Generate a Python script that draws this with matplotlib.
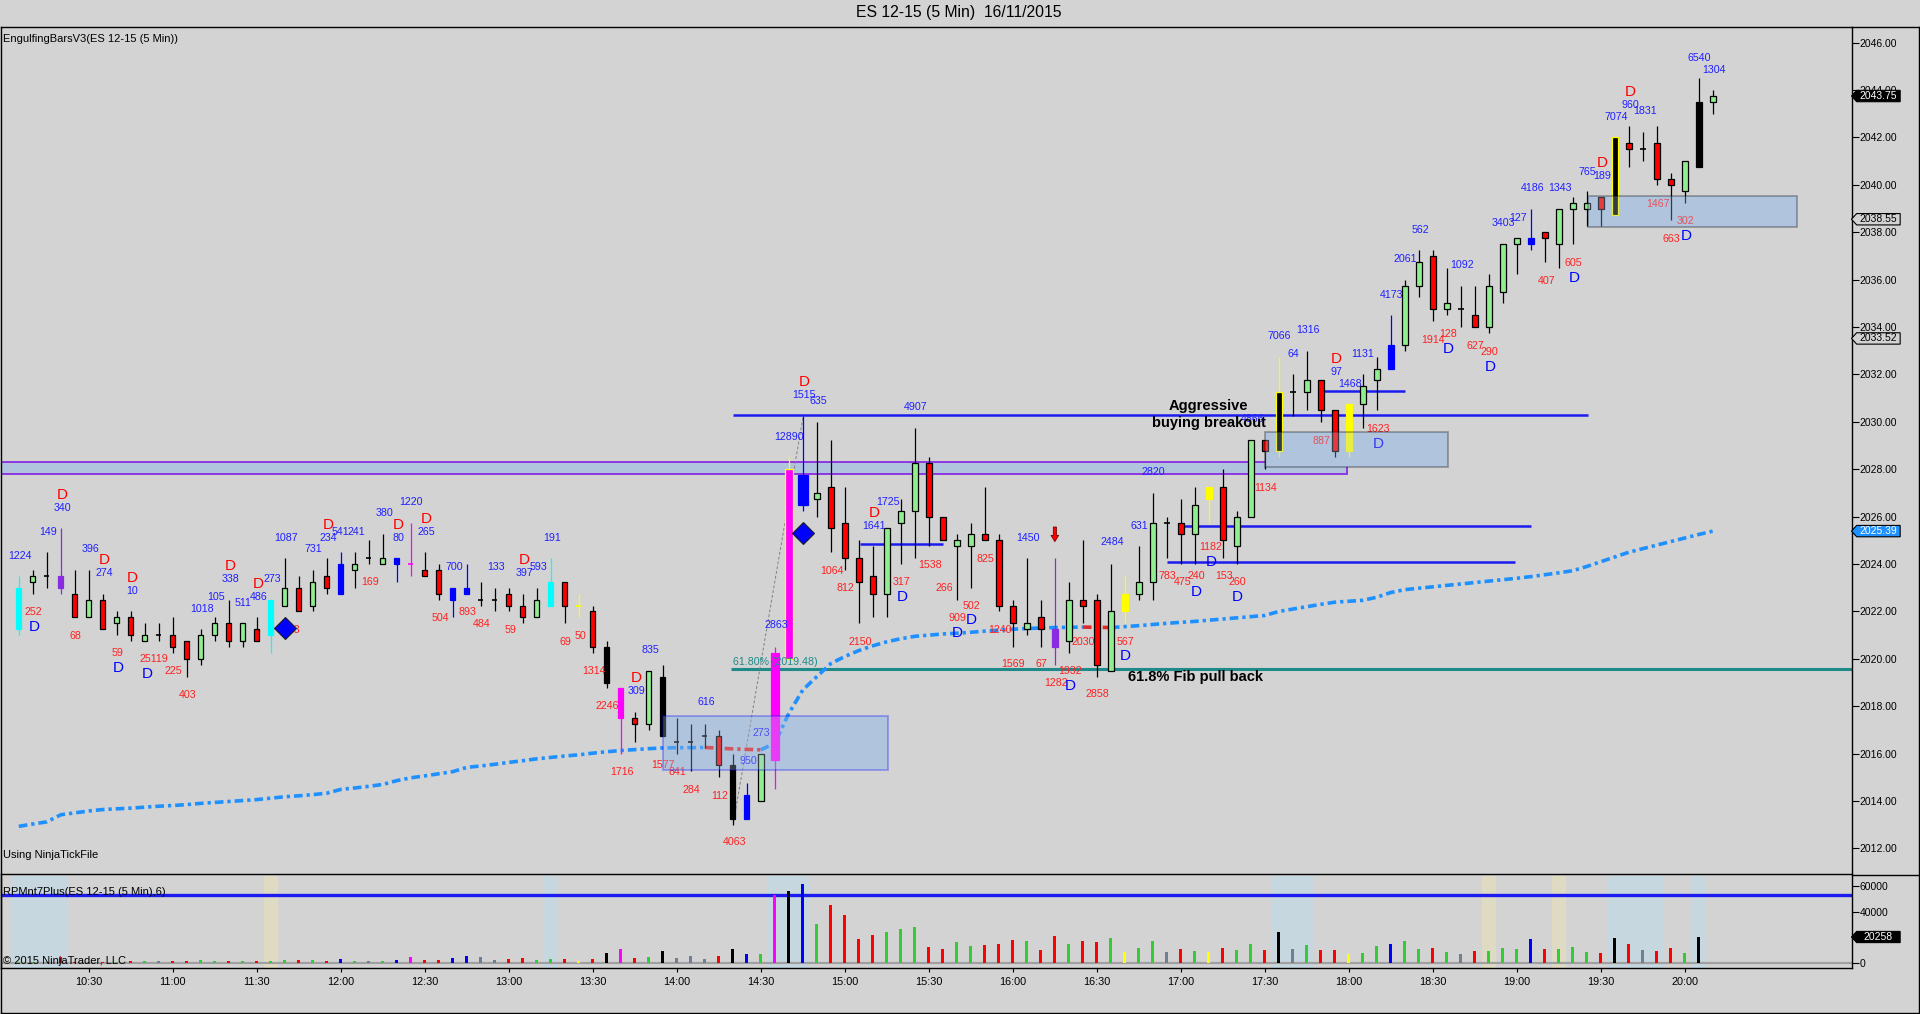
import numpy as np
import matplotlib
matplotlib.use("Agg")
import matplotlib.pyplot as plt
from matplotlib.patches import Rectangle, Polygon
from matplotlib.lines import Line2D
from matplotlib.ticker import FormatStrFormatter
from matplotlib.transforms import blended_transform_factory

plt.rcParams['font.family'] = ['Liberation Sans', 'DejaVu Sans']

# ---- data (ES 12-15, 5 min bars from 10:05) ----
first_bar = '10:05'
opens = [2021.25, 2023.25, 2023.5, 2023.5, 2022.75, 2021.75, 2022.5, 2021.5, 2021.75, 2020.75,
         2021.0, 2021.0, 2020.75, 2020.0, 2021.0, 2021.5, 2020.75, 2021.25, 2021.0, 2022.25,
         2023.0, 2022.25, 2023.5, 2022.75, 2023.75, 2024.25, 2024.0, 2024.25, 2024.0, 2023.75,
         2023.75, 2023.0, 2022.75, 2022.5, 2022.5, 2022.75, 2022.25, 2021.75, 2022.25, 2023.25,
         2022.25, 2022.0, 2020.5, 2018.75, 2017.5, 2017.25, 2019.25, 2016.5, 2016.5, 2016.75,
         2016.75, 2015.5, 2013.25, 2014.0, 2015.75, 2020.0, 2027.75, 2026.75, 2027.25, 2025.75,
         2024.25, 2023.5, 2022.75, 2025.75, 2026.25, 2028.25, 2026.0, 2024.75, 2024.75, 2025.25,
         2025.0, 2022.25, 2021.25, 2021.75, 2021.25, 2020.75, 2022.5, 2022.5, 2019.5, 2022.0,
         2022.75, 2023.25, 2025.75, 2025.75, 2025.25, 2026.75, 2027.25, 2024.75, 2026.0, 2029.25,
         2028.75, 2031.25, 2031.25, 2031.75, 2030.5, 2028.75, 2030.75, 2031.75, 2032.25, 2033.25,
         2035.75, 2037.0, 2034.75, 2034.75, 2034.5, 2034.0, 2035.5, 2037.5, 2037.5, 2038.0,
         2037.5, 2039.0, 2039.0, 2039.5, 2038.75, 2041.75, 2041.5, 2041.75, 2040.25, 2039.75,
         2040.75, 2043.5]
highs = [2023.5, 2023.75, 2024.5, 2025.5, 2023.75, 2023.75, 2022.75, 2022.0, 2022.0, 2021.5,
         2021.5, 2021.75, 2020.75, 2021.25, 2021.75, 2022.5, 2021.5, 2021.75, 2022.5, 2024.25,
         2023.5, 2023.75, 2024.25, 2024.5, 2024.5, 2025.0, 2025.25, 2024.25, 2025.75, 2024.5,
         2024.0, 2023.0, 2024.0, 2023.25, 2023.0, 2023.0, 2022.75, 2023.0, 2024.25, 2023.25,
         2022.75, 2022.25, 2020.75, 2018.75, 2017.75, 2019.5, 2019.75, 2017.5, 2017.25, 2017.25,
         2017.0, 2016.0, 2014.75, 2016.0, 2020.5, 2028.5, 2030.25, 2030.0, 2029.25, 2027.25,
         2025.0, 2024.75, 2025.5, 2026.75, 2029.75, 2028.5, 2026.0, 2025.25, 2025.75, 2027.25,
         2025.25, 2022.5, 2024.25, 2022.5, 2024.25, 2023.25, 2025.0, 2022.75, 2024.0, 2023.5,
         2024.75, 2027.0, 2026.0, 2026.75, 2027.25, 2027.25, 2028.0, 2026.25, 2029.25, 2029.25,
         2032.75, 2032.0, 2033.0, 2031.75, 2030.5, 2030.75, 2032.0, 2032.75, 2034.5, 2036.0,
         2037.25, 2037.25, 2036.5, 2035.75, 2035.75, 2036.25, 2037.5, 2037.75, 2039.0, 2038.0,
         2039.0, 2039.5, 2039.75, 2039.5, 2042.0, 2042.5, 2042.25, 2042.5, 2040.5, 2041.0,
         2044.5, 2044.0]
lows = [2021.0, 2022.75, 2023.0, 2022.75, 2021.75, 2021.75, 2021.25, 2021.0, 2020.75, 2020.75,
        2020.75, 2020.25, 2019.25, 2019.75, 2020.75, 2020.5, 2020.5, 2020.75, 2020.25, 2022.25,
        2022.0, 2022.0, 2022.75, 2022.75, 2023.0, 2024.0, 2024.0, 2023.25, 2023.5, 2023.5,
        2022.5, 2021.75, 2022.75, 2022.25, 2022.0, 2022.0, 2021.5, 2021.75, 2022.25, 2021.5,
        2021.75, 2020.25, 2018.75, 2016.0, 2016.5, 2017.0, 2016.75, 2016.0, 2015.25, 2016.25,
        2015.0, 2013.0, 2013.25, 2014.0, 2014.5, 2020.0, 2026.25, 2026.0, 2024.5, 2023.75,
        2021.5, 2021.75, 2021.75, 2024.0, 2024.25, 2024.75, 2025.0, 2022.5, 2023.0, 2025.0,
        2022.0, 2020.5, 2021.0, 2020.5, 2019.75, 2020.25, 2021.5, 2019.25, 2019.5, 2021.5,
        2022.5, 2022.5, 2024.25, 2024.0, 2024.0, 2025.75, 2024.25, 2024.0, 2026.0, 2028.0,
        2028.5, 2030.25, 2030.5, 2030.0, 2028.5, 2028.5, 2029.75, 2030.5, 2032.25, 2033.0,
        2035.25, 2034.25, 2034.5, 2034.0, 2034.0, 2033.75, 2035.0, 2036.25, 2037.25, 2036.75,
        2036.5, 2037.5, 2038.25, 2038.25, 2038.75, 2040.75, 2041.0, 2040.0, 2038.5, 2039.25,
        2040.75, 2043.0]
closes = [2023.0, 2023.5, 2023.5, 2023.0, 2021.75, 2022.5, 2021.25, 2021.75, 2021.0, 2021.0,
          2021.0, 2020.5, 2020.0, 2021.0, 2021.5, 2020.75, 2021.5, 2020.75, 2022.5, 2023.0,
          2022.0, 2023.25, 2023.0, 2024.0, 2024.0, 2024.25, 2024.25, 2024.0, 2024.0, 2023.5,
          2022.75, 2022.5, 2023.0, 2022.5, 2022.5, 2022.25, 2021.75, 2022.5, 2023.25, 2022.25,
          2022.25, 2020.5, 2019.0, 2017.5, 2017.25, 2019.5, 2016.75, 2016.5, 2016.5, 2016.75,
          2015.5, 2013.25, 2014.25, 2016.0, 2020.25, 2028.0, 2026.5, 2027.0, 2025.5, 2024.25,
          2023.25, 2022.75, 2025.5, 2026.25, 2028.25, 2026.0, 2025.0, 2025.0, 2025.25, 2025.0,
          2022.25, 2021.5, 2021.5, 2021.25, 2020.5, 2022.5, 2022.25, 2019.75, 2022.0, 2022.75,
          2023.25, 2025.75, 2025.75, 2025.25, 2026.5, 2027.25, 2025.0, 2026.0, 2029.25, 2028.75,
          2031.25, 2031.25, 2031.75, 2030.5, 2028.75, 2030.75, 2031.5, 2032.25, 2033.25, 2035.75,
          2036.75, 2034.75, 2035.0, 2034.75, 2034.0, 2035.75, 2037.5, 2037.75, 2037.75, 2037.75,
          2039.0, 2039.25, 2039.25, 2039.0, 2042.0, 2041.5, 2041.5, 2040.25, 2040.0, 2041.0,
          2043.5, 2043.75]
moving_avg = [2012.93, 2013.03, 2013.12, 2013.42, 2013.50, 2013.58, 2013.64, 2013.67, 2013.70, 2013.74,
              2013.78, 2013.81, 2013.85, 2013.90, 2013.94, 2013.98, 2014.02, 2014.06, 2014.12, 2014.18,
              2014.22, 2014.27, 2014.33, 2014.49, 2014.55, 2014.62, 2014.70, 2014.86, 2014.98, 2015.06,
              2015.15, 2015.24, 2015.42, 2015.48, 2015.55, 2015.63, 2015.70, 2015.78, 2015.84, 2015.90,
              2015.95, 2016.02, 2016.08, 2016.13, 2016.17, 2016.21, 2016.24, 2016.25, 2016.25, 2016.26,
              2016.23, 2016.20, 2016.18, 2016.16, 2016.44, 2017.70, 2018.69, 2019.25, 2019.80, 2020.10,
              2020.35, 2020.55, 2020.72, 2020.85, 2020.95, 2021.00, 2021.05, 2021.08, 2021.12, 2021.17,
              2021.21, 2021.25, 2021.28, 2021.30, 2021.32, 2021.33, 2021.34, 2021.33, 2021.32, 2021.36,
              2021.40, 2021.45, 2021.50, 2021.54, 2021.58, 2021.63, 2021.68, 2021.73, 2021.78, 2021.83,
              2022.00, 2022.10, 2022.20, 2022.30, 2022.39, 2022.43, 2022.47, 2022.60, 2022.80, 2022.92,
              2022.98, 2023.04, 2023.10, 2023.16, 2023.22, 2023.28, 2023.34, 2023.40, 2023.47, 2023.55,
              2023.63, 2023.72, 2023.90, 2024.10, 2024.30, 2024.50, 2024.65, 2024.80, 2024.95, 2025.10,
              2025.25, 2025.39]
volume = [900, 800, 800, 4400, 800, 900, 800, 900, 1300, 1300,
          1300, 1500, 1500, 2300, 1500, 1500, 1500, 1300, 1500, 2600,
          2300, 2300, 1500, 3100, 1600, 1500, 1600, 2300, 4700, 2300,
          2300, 3900, 5400, 4700, 2300, 3100, 3900, 2600, 3100, 3100,
          1300, 3100, 7800, 10900, 3900, 4700, 9300, 3900, 5400, 3100,
          5400, 10900, 7000, 7000, 52700, 56100, 61500, 30600, 45200, 37400,
          18700, 21800, 24100, 26500, 28000, 12500, 10900, 16600, 13200, 14000,
          14800, 17900, 17100, 10100, 21000, 14800, 17100, 16400, 19500, 8600,
          11700, 17100, 8600, 10900, 9300, 8600, 11700, 10100, 14800, 10100,
          24150, 10900, 14000, 10100, 10100, 7000, 7800, 13200, 14800, 17100,
          10900, 11700, 8600, 7000, 9300, 9300, 11700, 10900, 18700, 10900,
          10900, 12500, 8600, 7800, 19500, 14800, 10100, 9300, 11700, 7800,
          20258, 0]

# bars painted by the EngulfingBars indicator
paint = {0: 'c', 3: 'p', 18: 'c', 23: 'b', 27: 'b', 28: 'm', 31: 'b', 32: 'b', 38: 'c',
         40: 'y', 42: 'k', 43: 'm', 46: 'k', 51: 'k', 52: 'b', 54: 'm', 55: 'my', 56: 'b',
         74: 'p', 79: 'y', 85: 'y', 90: 'ky', 95: 'y', 98: 'b', 108: 'b', 114: 'ky', 120: 'k'}
vol_override = {55: 'k'}
# highlight columns in the lower panel (first bar, last bar, kind)
highlights = [(0, 3, 'b'), (18, 18, 'y'), (38, 38, 'b'), (54, 56, 'b'), (90, 92, 'b'),
              (105, 105, 'y'), (110, 110, 'y'), (114, 117, 'b'), (120, 120, 'b')]

time_labels = ['10:30', '11:00', '11:30', '12:00', '12:30', '13:00', '13:30', '14:00', '14:30',
               '15:00', '15:30', '16:00', '16:30', '17:00', '17:30', '18:00', '18:30', '19:00',
               '19:30', '20:00']
price_ticks = list(range(2012, 2047, 2))
vol_ticks = [0, 20000, 40000, 60000]

# drawn levels: (price, first bar, last bar)
blue_levels = [(2030.29, 51.0, 112.06), (2024.85, 60.1, 66.0), (2025.6, 83.1, 108.0),
               (2024.09, 82.0, 106.9), (2031.3, 93.0, 99.0)]
fib_level = 2019.55
fib_start = 50.9
fib_text = '61.80% (2019.48)'
fib_leg = [(51.04, 2013.07), (56.04, 2030.29)]
zone_band = (2027.79, 2028.30, 94.9)
zones = [(46.0, 62.06, 2015.3, 2017.58, 'blue'), (89.0, 102.1, 2028.11, 2029.59, 'black'),
         (112.06, 126.98, 2038.24, 2039.54, 'black')]
diamonds = [(19.0, 2021.29), (56.04, 2025.3)]
down_arrow = (74.0, 2025.68, 2024.83)
vol_level = 53200

blue_nums = [(0.09, 2024.36, '1224'), (2.1, 2025.37, '149'), (3.1, 2026.38, '340'), (5.09, 2024.64, '396'),
             (6.1, 2023.61, '274'), (8.1, 2022.86, '10'), (13.06, 2022.1, '1018'), (14.09, 2022.63, '105'),
             (15.09, 2023.38, '338'), (16.04, 2022.37, '511'), (17.1, 2022.63, '486'), (18.1, 2023.38, '273'),
             (19.09, 2025.11, '1087'), (21.04, 2024.64, '731'), (22.1, 2025.11, '234'), (22.94, 2025.35, '541'),
             (24.09, 2025.35, '241'), (26.09, 2026.14, '380'), (27.1, 2025.11, '80'), (27.99, 2026.62, '1220'),
             (29.09, 2025.37, '265'), (31.09, 2023.87, '700'), (34.09, 2023.87, '133'), (36.1, 2023.61, '397'),
             (37.1, 2023.87, '593'), (38.06, 2025.09, '191'), (44.09, 2018.66, '309'), (45.09, 2020.38, '835'),
             (49.09, 2018.16, '616'), (52.1, 2015.67, '950'), (53.06, 2016.89, '273'), (54.09, 2021.41, '2863'),
             (55.04, 2029.38, '12890'), (56.1, 2031.13, '1515'), (57.1, 2030.9, '635'), (61.1, 2025.61, '1641'),
             (62.1, 2026.61, '1725'), (64.09, 2030.64, '4907'), (72.1, 2025.09, '1450'), (78.1, 2024.91, '2484'),
             (80.04, 2025.61, '631'), (81.04, 2027.88, '2820'), (88.14, 2030.11, '4866'), (90.06, 2033.62, '7066'),
             (91.06, 2032.86, '64'), (92.07, 2033.88, '1316'), (94.09, 2032.12, '97'), (95.09, 2031.6, '1468'),
             (96.0, 2032.86, '1131'), (98.06, 2035.35, '4173'), (99.03, 2036.86, '2061'), (100.08, 2038.1, '562'),
             (103.09, 2036.62, '1092'), (106.07, 2038.38, '3403'), (107.1, 2038.59, '127'), (108.1, 2039.85, '4186'),
             (110.09, 2039.85, '1343'), (112.06, 2040.56, '765'), (113.1, 2040.39, '189'), (114.12, 2042.88, '7074'),
             (115.1, 2043.37, '960'), (116.13, 2043.12, '1831'), (120.06, 2045.37, '6540'), (121.1, 2044.85, '1304')]
red_nums = [(1.04, 2021.96, '252'), (4.06, 2020.97, '68'), (7.06, 2020.26, '59'), (9.66, 2020.0, '25119'),
            (11.04, 2019.49, '225'), (12.06, 2018.48, '403'), (19.45, 2021.22, '723'), (25.09, 2023.24, '169'),
            (30.09, 2021.74, '504'), (32.06, 2021.99, '893'), (33.06, 2021.48, '484'), (35.09, 2021.22, '59'),
            (39.06, 2020.73, '69'), (40.09, 2020.98, '50'), (41.1, 2019.49, '1314'), (42.04, 2017.99, '2246'),
            (43.1, 2015.23, '1716'), (46.04, 2015.5, '1577'), (47.06, 2015.22, '841'), (48.06, 2014.47, '284'),
            (50.09, 2014.23, '112'), (51.09, 2012.25, '4063'), (58.1, 2023.72, '1064'), (59.06, 2022.98, '812'),
            (60.09, 2020.7, '2150'), (63.06, 2023.26, '317'), (65.09, 2023.96, '1538'), (66.09, 2022.98, '266'),
            (67.06, 2021.74, '909'), (68.06, 2022.23, '502'), (69.06, 2024.22, '825'), (70.09, 2021.22, '1240'),
            (71.04, 2019.77, '1569'), (73.06, 2019.77, '67'), (74.09, 2019.0, '1282'), (75.09, 2019.49, '1932'),
            (76.04, 2020.7, '2030'), (77.06, 2018.51, '2858'), (79.06, 2020.7, '567'), (82.06, 2023.48, '783'),
            (83.1, 2023.26, '475'), (84.09, 2023.48, '240'), (85.1, 2024.74, '1182'), (86.09, 2023.48, '153'),
            (87.06, 2023.26, '260'), (89.06, 2027.2, '1134'), (93.04, 2029.21, '887'), (97.1, 2029.7, '1623'),
            (101.04, 2033.45, '1914'), (102.09, 2033.71, '128'), (104.06, 2033.2, '627'), (105.06, 2032.96, '290'),
            (109.09, 2035.94, '407'), (111.06, 2036.69, '605'), (117.09, 2039.19, '1467'), (118.06, 2037.72, '663'),
            (119.06, 2038.49, '302')]
red_D = [(3.1, 2026.91), (6.1, 2024.17), (8.1, 2023.4), (15.09, 2023.92), (17.1, 2023.16), (22.1, 2025.65),
         (27.1, 2025.65), (29.09, 2025.9), (36.1, 2024.17), (44.09, 2019.18), (56.1, 2031.67), (61.1, 2026.14),
         (94.09, 2032.64), (113.07, 2040.91), (115.12, 2043.93)]
blue_D = [(1.1, 2021.33), (7.1, 2019.6), (9.14, 2019.35), (63.1, 2022.6), (67.06, 2021.08), (68.06, 2021.62),
          (75.09, 2018.86), (79.06, 2020.1), (84.09, 2022.81), (85.14, 2024.09), (87.06, 2022.6),
          (97.1, 2029.07), (102.1, 2033.06), (105.1, 2032.33), (111.1, 2036.06), (119.1, 2037.84)]
price_marks = [(2043.75, 'last'), (2038.55, 'plain'), (2033.52, 'plain'), (2025.39, 'ma')]

# ---- styling ----
W, H = 1920, 1014
BG = '#d3d3d3'
UP, DN = '#90ee90', '#ff0000'
PAINT = {'c': '#00ffff', 'p': '#8a2be2', 'b': '#0000ff', 'm': '#ff00ff', 'y': '#ffff00', 'k': '#000000'}
VOLC = {'g': '#32cd32', 'r': '#ff0000', 's': '#708090', 'b': '#0000ff', 'm': '#ff00ff',
        'y': '#ffff00', 'k': '#000000'}
NUM_FS = 7.7


def fx(px):
    return px / W


def fy(py):
    return 1 - py / H


fig = plt.figure(figsize=(W / 100, H / 100), dpi=100, facecolor=BG)
x0, x1 = 1.2, 1851.5
ax = fig.add_axes([fx(x0), fy(874), fx(x1) - fx(x0), fy(27.3) - fy(874)], facecolor=BG)
axv = fig.add_axes([fx(x0), fy(968.3), fx(x1) - fx(x0), fy(875.5) - fy(968.3)], facecolor=BG)

n = len(opens)
xs = np.arange(n)
xlim = (-1.257, 130.9)
ax.set_xlim(*xlim)
axv.set_xlim(*xlim)
ax.set_ylim(2010.92, 2046.65)
axv.set_ylim(-4130, 68180)

# zone band and rectangles (under the bars)
ax.add_patch(Rectangle((xlim[0], zone_band[0]), zone_band[2] - xlim[0], zone_band[1] - zone_band[0],
                       fc='#b0c4de', ec='#8a2be2', lw=1.3, zorder=1))
for a, b, lo, hi, edge in zones:
    ax.add_patch(Rectangle((a, lo), b - a, hi - lo, fc='#b0c4de', ec='none', zorder=1))
    ax.add_patch(Rectangle((a, lo), b - a, hi - lo, fc='#b0c4de', alpha=0.3, ec=edge, lw=1.3, zorder=6))

# fib level and leg
ax.hlines(fib_level, fib_start, xlim[1], color='#1f8a8a', lw=2.2, zorder=2)
ax.text(fib_start + 0.1, fib_level + 0.3, fib_text, color='#1f8a8a', fontsize=NUM_FS,
        ha='left', va='center', zorder=5)
ax.plot([p[0] for p in fib_leg], [p[1] for p in fib_leg], color='#808080', lw=0.7,
        ls=(0, (3, 2)), zorder=2)

# blue levels
for lvl, a, b in blue_levels:
    ax.hlines(lvl, a, b, color='#1c1cf0', lw=1.8, zorder=2)

# moving average, red where falling
ma = np.array(moving_avg)
dec = np.diff(ma) < 0
s = 0
for k in range(1, len(dec) + 1):
    if k == len(dec) or dec[k] != dec[s]:
        ax.plot(xs[s:k + 1], ma[s:k + 1], color='#e02828' if dec[s] else '#1e90ff', lw=2.6,
                ls=(0, (2.4, 1.1, 0.9, 1.1)), solid_capstyle='butt', dash_capstyle='butt', zorder=2.5)
        s = k

# candles
bw = 0.38
wide = {54: 0.62, 55: 0.55, 56: 0.7}
for i in xs:
    o, h, l, c = opens[i], highs[i], lows[i], closes[i]
    code = paint.get(i)
    if code is None:
        face = UP if c > o else DN
        edge, wick = 'black', 'black'
    else:
        face = PAINT[code[0]]
        edge = PAINT[code[1]] if len(code) > 1 else face
        wick = edge if len(code) > 1 else face
    w = wide.get(i, bw)
    ax.vlines(i, l, h, color=wick, lw=0.9, zorder=3)
    if o == c:
        ax.hlines(o, i - w / 2, i + w / 2, color=wick, lw=1.2, zorder=4)
    else:
        ax.add_patch(Rectangle((i - w / 2, min(o, c)), w, abs(c - o), fc=face, ec=edge,
                               lw=0.9, zorder=4))

# markers
for dx_, dy_ in diamonds:
    ax.plot(dx_, dy_, marker='D', ms=11.5, mfc='#0000ff', mec='#202020', mew=0.8, zorder=7)
ax.annotate('', xy=(down_arrow[0], down_arrow[2]), xytext=(down_arrow[0], down_arrow[1]),
            arrowprops=dict(arrowstyle='simple,head_width=0.55,head_length=0.45,tail_width=0.22',
                            fc='#ff0000', ec='#7a0000', lw=0.6), zorder=7)

# labels
for lx, ly, t in blue_nums:
    ax.text(lx, ly, t, color='#2020ff', fontsize=NUM_FS, ha='center', va='center', zorder=5)
for lx, ly, t in red_nums:
    ax.text(lx, ly, t, color='#ff2020', fontsize=NUM_FS, ha='center', va='center', zorder=5)
for lx, ly in red_D:
    ax.text(lx, ly, 'D', color='#ff0000', fontsize=11, ha='center', va='center', zorder=5)
for lx, ly in blue_D:
    ax.text(lx, ly, 'D', color='#0000ff', fontsize=11, ha='center', va='center', zorder=5)

ax.text(85.0, 2030.69, 'Aggressive', fontsize=10.5, fontweight='bold', ha='center', va='center', zorder=8)
ax.text(85.0, 2029.97, 'buying breakout', fontsize=10.5, fontweight='bold', ha='center', va='center', zorder=8)
ax.text(79.2, 2019.25, '61.8% Fib pull back', fontsize=10.5, fontweight='bold', ha='left', va='center', zorder=8)

# price axis
ax.yaxis.tick_right()
ax.set_yticks(price_ticks)
ax.yaxis.set_major_formatter(FormatStrFormatter('%.2f'))
ax.tick_params(axis='y', labelsize=7.5, length=5, width=0.8, pad=0.8, direction='out')
ax.tick_params(axis='x', bottom=False, labelbottom=False)
for sp in ax.spines.values():
    sp.set_color('black')
    sp.set_linewidth(1.0)


def price_box(axis, val, half, fc, tc, ec='black'):
    tr = blended_transform_factory(axis.transAxes, axis.transData)
    p, w = 0.0028, 0.0263
    poly = Polygon([(1.0, val), (1 + p, val + half), (1 + w, val + half), (1 + w, val - half),
                    (1 + p, val - half)], closed=True, fc=fc, ec=ec, lw=0.8, transform=tr,
                   clip_on=False, zorder=10)
    axis.add_patch(poly)
    label = '%.2f' % val if isinstance(val, float) else '%d' % val
    axis.text(1 + p + (w - p) / 2, val, label, transform=tr, color=tc, fontsize=7.5,
              ha='center', va='center', clip_on=False, zorder=11)


for val, kind in price_marks:
    if kind == 'last':
        price_box(ax, val, 0.24, '#000000', 'white')
    elif kind == 'ma':
        price_box(ax, val, 0.24, '#1e90ff', 'white')
    else:
        price_box(ax, val, 0.24, '#d3d3d3', 'black')

# ---- lower panel ----
for a, b, kind in highlights:
    axv.axvspan(a - 0.5, b + 0.5, color='#c6d7df' if kind == 'b' else '#dfdac2', lw=0, zorder=0)

vcols = []
for i in xs:
    code = vol_override.get(i) or paint.get(i, '')[:1]
    if code in ('b', 'm', 'y', 'k'):
        vcols.append(VOLC[code])
    elif code == 'c':
        vcols.append(VOLC['g'])
    elif code == 'p':
        vcols.append(VOLC['r'])
    elif closes[i] > opens[i]:
        vcols.append(VOLC['g'])
    elif closes[i] < opens[i]:
        vcols.append(VOLC['r'])
    else:
        vcols.append(VOLC['s'])
axv.bar(xs, volume, width=0.2, color=vcols, zorder=3)
axv.axhline(0, color='#a0a0a0', lw=1.6, zorder=2)
axv.axhline(vol_level, color='#1c1cf0', lw=2.4, zorder=2)

axv.yaxis.tick_right()
axv.set_yticks(vol_ticks)
axv.set_yticklabels([str(v) for v in vol_ticks])
axv.tick_params(axis='y', labelsize=7.5, length=5, width=0.8, pad=0.8, direction='out')

h0, m0 = map(int, first_bar.split(':'))
tpos = [((int(t[:2]) * 60 + int(t[3:])) - (h0 * 60 + m0)) / 5 for t in time_labels]
axv.set_xticks(tpos)
axv.set_xticklabels(time_labels)
axv.tick_params(axis='x', labelsize=7.8, length=3, width=0.8, pad=3, direction='out')
for sp in axv.spines.values():
    sp.set_color('black')
    sp.set_linewidth(1.0)
axv.spines['top'].set_visible(False)

last_vol = [v for v in volume if v > 0][-1]
price_box(axv, last_vol, 4360, '#000000', 'white')

# ---- texts and frame ----
fig.text(fx(959), fy(13), 'ES 12-15 (5 Min)  16/11/2015', fontsize=11.3, ha='center', va='center')
fig.text(fx(3), fy(39), 'EngulfingBarsV3(ES 12-15 (5 Min))', fontsize=8, ha='left', va='center')
fig.text(fx(3), fy(855), 'Using NinjaTickFile', fontsize=8, ha='left', va='center')
fig.text(fx(3), fy(892), 'RPMnt7Plus(ES 12-15 (5 Min),6)', fontsize=8, ha='left', va='center', zorder=5)
fig.text(fx(3), fy(961), '\u00a9 2015 NinjaTrader, LLC', fontsize=8, ha='left', va='center', zorder=5)

for xa, ya in [([1851.5, 1918.5], [27.3, 27.3]), ([1918.5, 1918.5], [27.3, 1013]),
               ([1, 1918.5], [1013, 1013]), ([1, 1], [874, 1013]), ([1851.5, 1918.5], [874.6, 874.6])]:
    fig.add_artist(Line2D([fx(v) for v in xa], [fy(v) for v in ya], color='black', lw=1.0))

fig.savefig('out.png', dpi=100, facecolor=BG)
